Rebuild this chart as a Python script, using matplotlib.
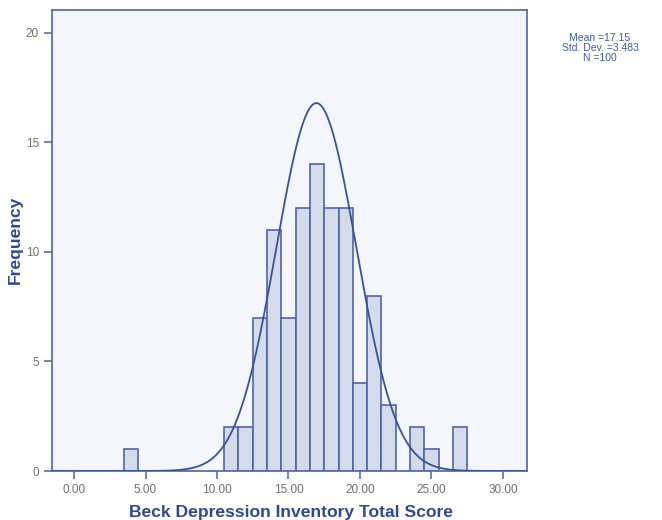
import numpy as np
import matplotlib
matplotlib.use("Agg")
import matplotlib.pyplot as plt

# Data: histogram bins (centres) and counts
bin_centers = [4, 11, 12, 13, 14, 15, 16, 17, 18, 19, 20, 21, 22, 24, 25, 27]
counts      = [1, 2, 2, 7, 11, 7, 12, 14, 12, 12, 4, 8, 3, 2, 1, 2]
bin_width = 1.0

# Summary statistics shown in the legend box
mean_val = 17.15
sd_val = 3.483
n_val = 100

# Normal curve as drawn in the picture
curve_mean = 16.95
curve_sd = 2.8
curve_peak = 16.8

x_ticks = [0, 5, 10, 15, 20, 25, 30]
x_tick_labels = ["0.00", "5.00", "10.00", "15.00", "20.00", "25.00", "30.00"]
y_ticks = [0, 5, 10, 15, 20]

plt.rcParams['font.family'] = ['Liberation Sans', 'DejaVu Sans']

fig = plt.figure(figsize=(6.62, 5.20), dpi=100)
fig.patch.set_facecolor("white")
ax = fig.add_axes([52/662, 49/520, (527-52)/662, (471-10)/520])
ax.set_facecolor("#F4F6FB")

edge = "#4F66A6"
fill = "#D4DBEA"
ax.bar(bin_centers, counts, width=bin_width, color=fill, edgecolor=edge, linewidth=1.2, zorder=2)

xs = np.linspace(-1.5, 31.6, 600)
ys = curve_peak * np.exp(-0.5 * ((xs - curve_mean) / curve_sd) ** 2)
ax.plot(xs, ys, color="#3A5396", linewidth=1.3, zorder=3)

ax.set_xlim(-1.54, 31.68)
ax.set_ylim(0, 21.05)
ax.set_xticks(x_ticks)
ax.set_xticklabels(x_tick_labels)
ax.set_yticks(y_ticks)

for s in ax.spines.values():
    s.set_color("#5A6FAE")
    s.set_linewidth(1.3)

ax.tick_params(axis="both", colors="#5A6FAE", labelcolor="#707070", labelsize=8.5,
               length=6, width=1.2, direction="out")

fig.text(291/662, 1 - 512/520, "Beck Depression Inventory Total Score", fontsize=12.6,
         fontweight="bold", color="#2F4A8E", ha="center", va="center")
fig.text(15/662, 1 - 240/520, "Frequency", fontsize=12.6, fontweight="bold",
         color="#2F4A8E", ha="center", va="center", rotation=90)

fig.text(600/662, 1 - 48/520,
         f"Mean ={mean_val:.2f}\nStd. Dev. ={sd_val:.3f}\nN ={n_val}",
         ha="center", va="center", fontsize=7.5, color="#3E5AA8", linespacing=0.95)

fig.savefig("out.png", dpi=100)
